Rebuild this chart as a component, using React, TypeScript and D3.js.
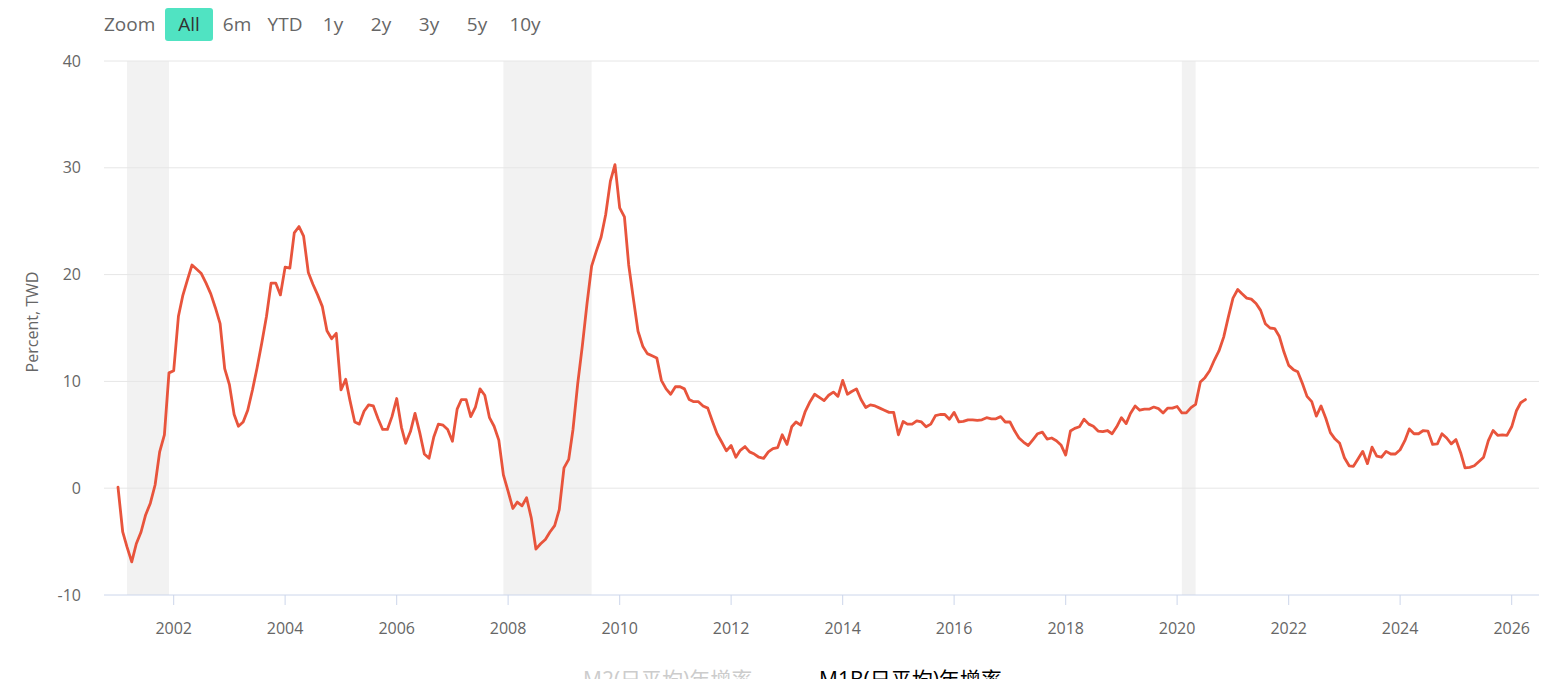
import * as d3 from 'd3';

// M1B (daily average) YoY growth, monthly from 2001-01
const startYear = 2001;
const m1bGrowth = [
  // 2001
  0.1, -4.1, -5.5, -6.9, -5.2, -4.1, -2.5, -1.4, 0.3, 3.4, 5.0, 10.8,
  // 2002
  11.0, 16.1, 18.0, 19.5, 20.9, 20.5, 20.1, 19.2, 18.2, 16.9, 15.4, 11.2,
  // 2003
  9.7, 6.9, 5.8, 6.2, 7.3, 9.2, 11.25, 13.6, 16.1, 19.2, 19.2, 18.1,
  // 2004
  20.7, 20.6, 23.9, 24.5, 23.6, 20.2, 19.1, 18.1, 17.0, 14.75, 14.0, 14.5,
  // 2005
  9.2, 10.2, 8.2, 6.2, 6.0, 7.2, 7.8, 7.7, 6.5, 5.5, 5.5, 6.7,
  // 2006
  8.4, 5.7, 4.2, 5.3, 7.0, 5.2, 3.2, 2.8, 4.8, 6.0, 5.9, 5.5,
  // 2007
  4.4, 7.4, 8.3, 8.3, 6.7, 7.6, 9.3, 8.7, 6.6, 5.8, 4.5, 1.25,
  // 2008
  -0.3, -1.9, -1.3, -1.65, -0.9, -2.8, -5.7, -5.2, -4.8, -4.1, -3.5, -2.0,
  // 2009
  1.9, 2.7, 5.5, 9.8, 13.3, 17.3, 20.8, 22.2, 23.5, 25.6, 28.75, 30.3,
  // 2010
  26.25, 25.4, 20.9, 17.7, 14.7, 13.3, 12.6, 12.4, 12.2, 10.1, 9.3, 8.8,
  // 2011
  9.5, 9.5, 9.3, 8.3, 8.1, 8.1, 7.7, 7.5, 6.25, 5.1, 4.3, 3.5,
  // 2012
  4.0, 2.9, 3.55, 3.9, 3.4, 3.2, 2.9, 2.8, 3.4, 3.7, 3.8, 5.0,
  // 2013
  4.1, 5.75, 6.2, 5.9, 7.2, 8.1, 8.8, 8.5, 8.2, 8.7, 9.0, 8.6,
  // 2014
  10.1, 8.8, 9.05, 9.3, 8.3, 7.55, 7.8, 7.7, 7.5, 7.3, 7.1, 7.1,
  // 2015
  5.0, 6.25, 6.0, 6.0, 6.3, 6.2, 5.75, 6.0, 6.8, 6.9, 6.9, 6.45,
  // 2016
  7.1, 6.2, 6.25, 6.4, 6.4, 6.35, 6.4, 6.6, 6.5, 6.5, 6.7, 6.2,
  // 2017
  6.2, 5.35, 4.7, 4.3, 4.0, 4.55, 5.1, 5.25, 4.6, 4.7, 4.45, 4.05,
  // 2018
  3.1, 5.35, 5.6, 5.75, 6.45, 6.0, 5.8, 5.35, 5.3, 5.4, 5.1, 5.75,
  // 2019
  6.6, 6.05, 7.0, 7.7, 7.3, 7.4, 7.4, 7.6, 7.45, 7.05, 7.5, 7.5,
  // 2020
  7.65, 7.05, 7.05, 7.55, 7.85, 9.95, 10.35, 11.0, 12.0, 12.85, 14.15, 16.0,
  // 2021
  17.8, 18.6, 18.2, 17.8, 17.7, 17.3, 16.65, 15.4, 15.0, 14.95, 14.2, 12.75,
  // 2022
  11.5, 11.1, 10.9, 9.8, 8.6, 8.1, 6.75, 7.7, 6.55, 5.2, 4.6, 4.2,
  // 2023
  2.85, 2.1, 2.05, 2.75, 3.45, 2.3, 3.85, 3.0, 2.9, 3.45, 3.2, 3.2,
  // 2024
  3.6, 4.45, 5.55, 5.1, 5.1, 5.4, 5.35, 4.1, 4.15, 5.1, 4.7, 4.15,
  // 2025
  4.55, 3.3, 1.9, 1.95, 2.1, 2.5, 2.9, 4.45, 5.4, 4.95, 5.0, 4.95,
  // 2026
  5.75, 7.25, 8.0, 8.3,
];

// shaded recession periods [start, end] as [year, month(0-based)]
const recessions: Array<[[number, number], [number, number]]> = [
  [[2001, 2], [2001, 11]],
  [[2007, 11], [2009, 6]],
  [[2020, 1], [2020, 4]],
];

const yTicks = [-10, 0, 10, 20, 30, 40];
const xTickYears = [2002, 2004, 2006, 2008, 2010, 2012, 2014, 2016, 2018, 2020, 2022, 2024, 2026];
const zoomButtons = ['All', '6m', 'YTD', '1y', '2y', '3y', '5y', '10y'];
const legendItems = [
  { name: 'M2(日平均)年增率', visible: false },
  { name: 'M1B(日平均)年增率', visible: true },
];

const W = 1561;
const H = 679;
const plot = { left: 104, right: 1539, top: 61, bottom: 595 };
const font = '"Open Sans", "Noto Sans", sans-serif';
const cjkFont = '"Open Sans", "Noto Sans CJK TC", sans-serif';

export default function App() {
  const series = m1bGrowth.map((v, i) => ({
    date: new Date(startYear + Math.floor(i / 12), i % 12, 1),
    value: v,
  }));

  const x = d3
    .scaleTime()
    .domain([new Date(2002, 0, 1), new Date(2026, 0, 1)])
    .range([173.7, 1511.7]);
  const y = d3.scaleLinear().domain([-10, 40]).range([plot.bottom, plot.top]);

  const line = d3
    .line<{ date: Date; value: number }>()
    .x((d) => x(d.date))
    .y((d) => y(d.value));

  return (
    <div style={{ position: 'absolute', left: 0, top: 0 }}>
      <svg width={W} height={H} style={{ display: 'block', background: '#fff' }}>
        {/* range selector */}
        <text x={104} y={31} fontFamily={font} fontSize={19} fill="#666">
          Zoom
        </text>
        {zoomButtons.map((b, i) => (
          <g key={b} transform={`translate(${165 + i * 48},8)`}>
            {i === 0 && <rect width={48} height={33} rx={3} fill="#50e3c2" />}
            <text
              x={24}
              y={23}
              textAnchor="middle"
              fontFamily={font}
              fontSize={19}
              fill={i === 0 ? '#333' : '#666'}
            >
              {b}
            </text>
          </g>
        ))}

        {/* recession bands */}
        {recessions.map(([s, e], i) => (
          <rect
            key={i}
            x={x(new Date(s[0], s[1], 1))}
            y={plot.top}
            width={x(new Date(e[0], e[1], 1)) - x(new Date(s[0], s[1], 1))}
            height={plot.bottom - plot.top}
            fill="#f2f2f2"
          />
        ))}

        {/* grid + y labels */}
        {yTicks.map((t) => (
          <g key={t}>
            {t !== -10 && (
              <line x1={plot.left} x2={plot.right} y1={y(t)} y2={y(t)} stroke="#e6e6e6" strokeWidth={1} />
            )}
            <text
              x={81}
              y={y(t) + 5.5}
              textAnchor="end"
              fontFamily={font}
              fontSize={16}
              fill="#666"
            >
              {t}
            </text>
          </g>
        ))}

        <text
          transform={`translate(38,${(plot.top + plot.bottom) / 2 - 6}) rotate(-90)`}
          textAnchor="middle"
          fontFamily={font}
          fontSize={16}
          fill="#666"
        >
          Percent, TWD
        </text>

        {/* x axis */}
        <line x1={plot.left} x2={plot.right} y1={plot.bottom} y2={plot.bottom} stroke="#ccd6eb" strokeWidth={1} />
        {xTickYears.map((yr) => {
          const px = x(new Date(yr, 0, 1));
          return (
            <g key={yr}>
              <line x1={px} x2={px} y1={plot.bottom} y2={plot.bottom + 10} stroke="#ccd6eb" />
              <text
                x={px}
                y={634}
                textAnchor="middle"
                fontFamily={font}
                fontSize={16}
                fill="#666"
              >
                {yr}
              </text>
            </g>
          );
        })}

        {/* series */}
        <path
          d={line(series) ?? ''}
          fill="none"
          stroke="#e8543c"
          strokeWidth={2.8}
          strokeLinejoin="round"
          strokeLinecap="round"
        />

        {/* legend (cut by the frame, as in the source) */}
        <text x={583} y={687} fontFamily={cjkFont} fontSize={21} fill="#ccc">
          {legendItems[0].name}
        </text>
        <text x={819} y={687} fontFamily={cjkFont} fontSize={21} fill="#000">
          {legendItems[1].name}
        </text>
      </svg>
    </div>
  );
}
